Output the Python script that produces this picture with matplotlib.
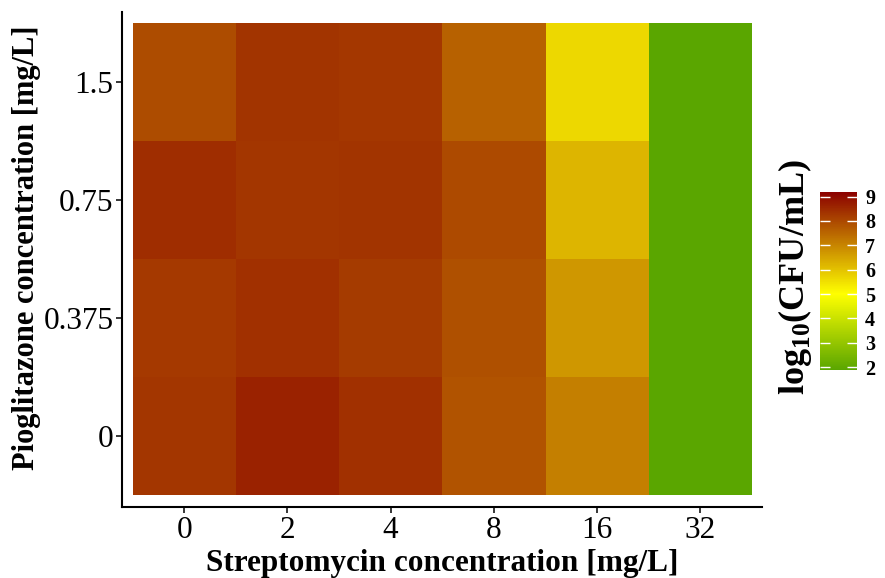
import matplotlib

matplotlib.use("Agg")
import matplotlib.pyplot as plt
import numpy as np
from matplotlib.colors import LinearSegmentedColormap, Normalize

plt.rcParams["font.family"] = ["Liberation Serif", "DejaVu Serif"]
plt.rcParams["mathtext.fontset"] = "custom"
plt.rcParams["mathtext.rm"] = "Liberation Serif"
plt.rcParams["mathtext.bf"] = "Liberation Serif:bold"

# ---- data: log10(CFU/mL), rows = pioglitazone, cols = streptomycin
strep_labels = ["0", "2", "4", "8", "16", "32"]
pio_labels = ["0", "0.375", "0.75", "1.5"]
cfu_pio_0 = [8.29, 8.62, 8.38, 7.80, 7.11, 1.88]
cfu_pio_0375 = [8.23, 8.38, 8.21, 7.87, 6.71, 1.88]
cfu_pio_075 = [8.43, 8.31, 8.33, 7.96, 6.20, 1.88]
cfu_pio_15 = [7.92, 8.33, 8.28, 7.59, 5.63, 1.88]
cbar_ticks = [2, 3, 4, 5, 6, 7, 8, 9]

grid = np.array([cfu_pio_0, cfu_pio_0375, cfu_pio_075, cfu_pio_15])

VMIN, VMAX, VMID = 1.88, 9.2, 5.0
mid = (VMID - VMIN) / (VMAX - VMIN)
cmap = LinearSegmentedColormap.from_list(
    "gyr", [(0.0, "#5aa600"), (mid, "#ffff00"), (1.0, "#8b0000")])
norm = Normalize(VMIN, VMAX)

fig = plt.figure(figsize=(8.85, 5.78), dpi=100)
ax = fig.add_axes([0.1384, 0.1234, 0.7223, 0.8564])
im = ax.imshow(grid, cmap=cmap, norm=norm, origin="lower", aspect="auto",
               extent=(-0.5, len(strep_labels) - 0.5, -0.5, len(pio_labels) - 0.5),
               interpolation="nearest")
ax.set_xlim(-0.6, len(strep_labels) - 0.4)
ax.set_ylim(-0.6, len(pio_labels) - 0.4)

ax.set_xticks(range(len(strep_labels)), strep_labels)
ax.set_yticks(range(len(pio_labels)), pio_labels)
ax.tick_params(labelsize=22.5, length=4.5, width=1.1, pad=2, colors="black")
for side in ("top", "right"):
    ax.spines[side].set_visible(False)
for side in ("left", "bottom"):
    ax.spines[side].set_linewidth(1.5)
ax.set_xlabel("Streptomycin concentration [mg/L]", fontsize=22.5,
              fontweight="bold", labelpad=3)
ax.set_ylabel("Pioglitazone concentration [mg/L]", fontsize=22,
              fontweight="bold")
ax.yaxis.set_label_coords(-0.128, 0.524)

cax = fig.add_axes([0.9266, 0.3599, 0.0414, 0.3084])
cb = fig.colorbar(im, cax=cax, ticks=cbar_ticks)
cb.outline.set_visible(False)
cax.tick_params(direction="in", color="white", length=7, width=1,
                left=True, right=True, labelsize=14.5, pad=6)
for lab in cax.get_yticklabels():
    lab.set_fontweight("bold")
fig.text(0.898, 0.521, r"log$_{\mathbf{10}}$(CFU/mL)", rotation=90,
         ha="center", va="center", fontsize=26, fontweight="bold")

fig.savefig("out.png", dpi=100)
